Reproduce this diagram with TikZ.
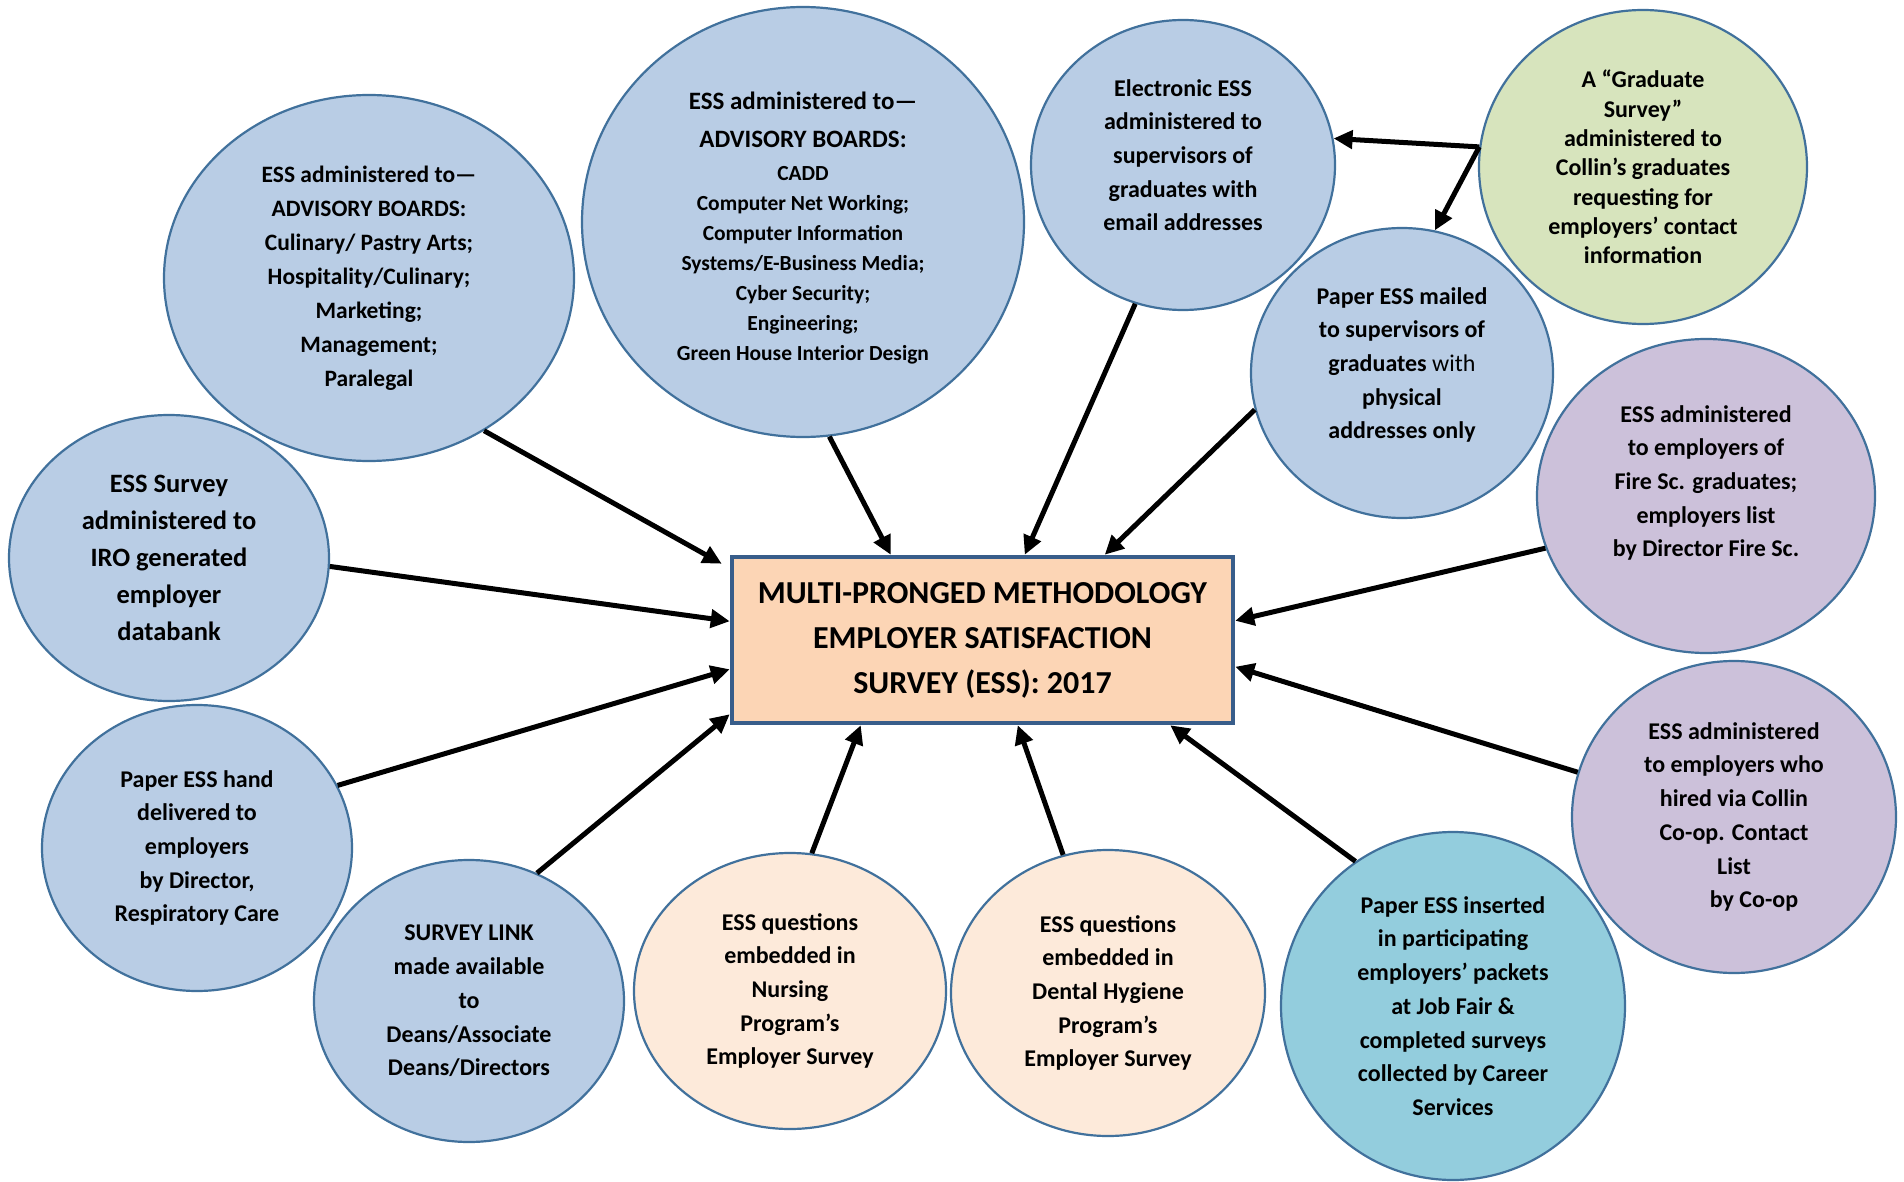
\documentclass[tikz,border=0pt]{standalone}
\usepackage{fontspec}
\setmainfont{Carlito}
\usetikzlibrary{shapes.geometric,arrows.meta,calc}
\definecolor{bubblue}{RGB}{185,205,229}
\definecolor{bubgreen}{RGB}{215,228,189}
\definecolor{bubpurple}{RGB}{204,193,218}
\definecolor{bubteal}{RGB}{147,205,221}
\definecolor{bubpeach}{RGB}{253,234,218}
\definecolor{boxfill}{RGB}{252,213,181}
\definecolor{edge}{RGB}{65,113,156}
\definecolor{boxedge}{RGB}{56,93,138}
\newcommand\bigline{\fontsize{25}{38}\selectfont}
\tikzset{
  bubble/.style={ellipse, draw=edge, line width=2.2pt, inner sep=0pt, align=center,
     font=\bfseries\fontsize{24}{33.7}\selectfont, text=black},
  conn/.style={line width=5pt, -{Triangle[length=19pt,width=18pt]}},
}
\begin{document}
\begin{tikzpicture}[x=1pt,y=-1pt]
\useasboundingbox (0,0) rectangle (1904,1182);
\fill[white] (0,0) rectangle (1904,1182);

\node[bubble, fill=bubblue, minimum width=410pt, minimum height=366pt,
  font=\bfseries\fontsize{23.5}{34}\selectfont] (advl) at (369,278)
  {ESS administered to—\\ ADVISORY BOARDS:\\ Culinary/ Pastry Arts;\\ Hospitality/Culinary;\\ Marketing;\\ Management;\\ Paralegal};

\node[bubble, fill=bubblue, minimum width=442pt, minimum height=430pt,
  font=\bfseries\fontsize{21.5}{30}\selectfont] (advt) at (803,222)
  {\bigline\rule{0pt}{30pt}ESS administered to—\\[8pt] \bigline ADVISORY BOARDS:\\[3pt] CADD\\ Computer Net Working;\\ Computer Information\\ Systems/E-Business Media;\\ Cyber Security;\\ Engineering;\\ Green House Interior Design};

\node[bubble, fill=bubblue, minimum width=304pt, minimum height=290pt] (elec) at (1183,165)
  {Electronic ESS\\ administered to\\ supervisors of\\ graduates with\\ email addresses\\[-14pt]\mbox{}};

\node[bubble, fill=bubgreen, minimum width=328pt, minimum height=314pt,
  font=\bfseries\fontsize{24}{29.3}\selectfont] (grad) at (1643,167)
  {A “Graduate\\ Survey”\\ administered to\\ Collin’s graduates\\ requesting for\\ employers’ contact\\ information};

\node[bubble, fill=bubblue, minimum width=302pt, minimum height=290pt] (mail) at (1402,373)
  {Paper ESS mailed\\ to supervisors of\\ graduates {\mdseries with}\\ physical\\ addresses only\\[-14pt]\mbox{}};

\node[bubble, fill=bubpurple, minimum width=338pt, minimum height=314pt] (fire) at (1706,496)
  {ESS administered\\ to employers of\\ Fire Sc. graduates;\\ employers list\\ by Director Fire Sc.\\[-4pt]\mbox{}};

\node[bubble, fill=bubpurple, minimum width=324pt, minimum height=312pt] (coop) at (1734,817)
  {ESS administered\\ to employers who\\ hired via Collin\\ Co-op. Contact\\ List\\ \hspace*{40pt}by Co-op};

\node[bubble, fill=bubteal, minimum width=344pt, minimum height=348pt] (fair) at (1453,1006)
  {Paper ESS inserted\\ in participating\\ employers’ packets\\ at Job Fair \&\\ completed surveys\\ collected by Career\\ Services};

\node[bubble, fill=bubpeach, minimum width=314pt, minimum height=286pt] (dent) at (1108,993)
  {ESS questions\\ embedded in\\ Dental Hygiene\\ Program’s\\ Employer Survey};

\node[bubble, fill=bubpeach, minimum width=312pt, minimum height=276pt] (nurs) at (790,991)
  {ESS questions\\ embedded in\\ Nursing\\ Program’s\\ Employer Survey};

\node[bubble, fill=bubblue, minimum width=310pt, minimum height=282pt] (link) at (469,1001)
  {SURVEY LINK\\ made available\\ to\\ Deans/Associate\\ Deans/Directors};

\node[bubble, fill=bubblue, minimum width=310pt, minimum height=286pt] (hand) at (197,848)
  {Paper ESS hand\\ delivered to\\ employers\\ by Director,\\ Respiratory Care};

\node[bubble, fill=bubblue, minimum width=320pt, minimum height=286pt,
  font=\bfseries\fontsize{26.5}{37}\selectfont] (iro) at (169,558)
  {ESS Survey\\ administered to\\ IRO generated\\ employer\\ databank};

\node[draw=boxedge, line width=4.5pt, fill=boxfill, minimum width=501pt, minimum height=166pt,
  inner sep=0pt, align=center, font=\bfseries\fontsize{32}{45}\selectfont] (box) at (982.5,640)
  {MULTI-PRONGED METHODOLOGY\\ EMPLOYER SATISFACTION\\ SURVEY (ESS): 2017};

% connectors
\draw[conn] (advl.-53) -- ([xshift=-8pt,yshift=-9pt]box.north west);
\draw[conn] (advt.-83) -- ([xshift=161pt]box.north west);
\draw[conn] (elec.-109) -- ([xshift=295pt]box.north west);
\draw[conn] (mail.194) -- ([xshift=375pt]box.north west);
\draw[conn] (fire.-162.6) -- ([yshift=-66pt]box.north east);
\draw[conn] (coop.164) -- ([yshift=-112pt]box.north east);
\draw[conn] (fair.124.4) -- ([xshift=-65pt]box.south east);
\draw[conn] (dent.108.9) -- ([xshift=288pt]box.south west);
\draw[conn] (nurs.81.9) -- ([xshift=131pt]box.south west);
\draw[conn] (link.62.2) -- ([yshift=11pt]box.south west);
\draw[conn] (hand.24.6) -- ([yshift=56pt]box.south west);
\draw[conn] (iro.-3.6) -- ([yshift=104pt]box.south west);
\draw[conn] (grad.173) -- (elec.10.6);
\draw[conn] (grad.173) -- (mail.77.6);
\end{tikzpicture}
\end{document}
